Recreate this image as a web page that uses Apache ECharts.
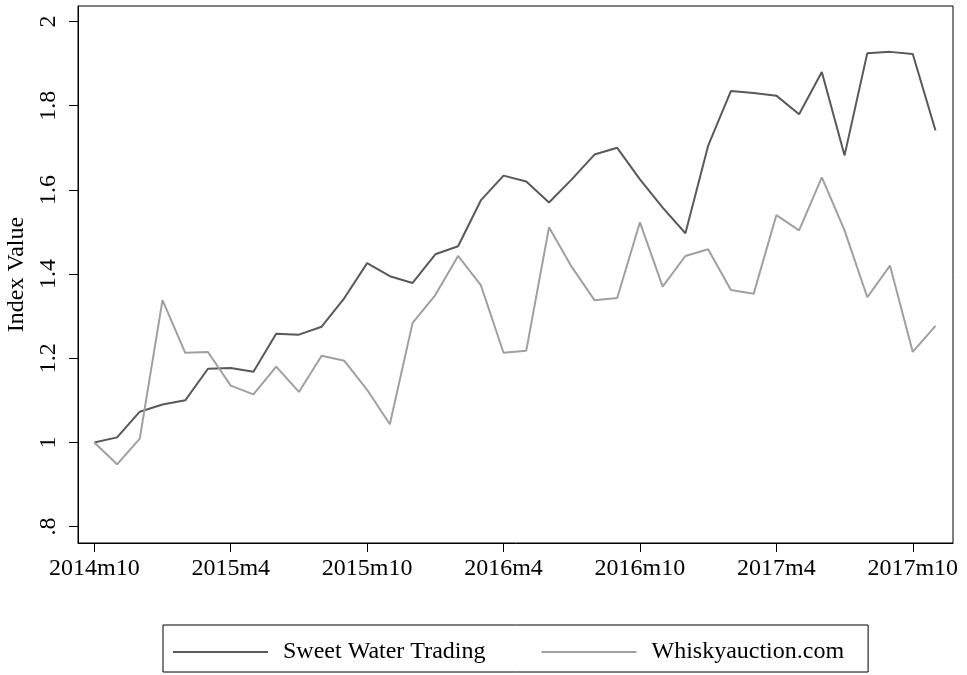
<!DOCTYPE html>
<html>
<head>
<meta charset="utf-8">
<script src="https://cdn.jsdelivr.net/npm/echarts@6/dist/echarts.min.js"></script>
<style>
  html, body { margin: 0; padding: 0; background: #fff; }
  #main { width: 967px; height: 675px; }
</style>
</head>
<body>
<div id="main"></div>
<script>
// monthly index, 2014m10 .. 2017m11
var months = ['2014m10','2014m11','2014m12','2015m1','2015m2','2015m3','2015m4','2015m5','2015m6','2015m7',
  '2015m8','2015m9','2015m10','2015m11','2015m12','2016m1','2016m2','2016m3','2016m4','2016m5',
  '2016m6','2016m7','2016m8','2016m9','2016m10','2016m11','2016m12','2017m1','2017m2','2017m3',
  '2017m4','2017m5','2017m6','2017m7','2017m8','2017m9','2017m10','2017m11'];

var sweetWater = [1.000, 1.012, 1.073, 1.090, 1.100, 1.175, 1.177, 1.168, 1.258, 1.256,
  1.275, 1.343, 1.426, 1.395, 1.379, 1.447, 1.466, 1.575, 1.634, 1.620,
  1.570, 1.625, 1.684, 1.700, 1.625, 1.558, 1.497, 1.705, 1.835, 1.830,
  1.824, 1.780, 1.880, 1.682, 1.925, 1.928, 1.923, 1.741];

var whiskyAuction = [1.000, 0.948, 1.009, 1.338, 1.213, 1.215, 1.135, 1.114, 1.180, 1.120,
  1.206, 1.194, 1.125, 1.043, 1.284, 1.350, 1.443, 1.374, 1.213, 1.218,
  1.511, 1.417, 1.338, 1.343, 1.523, 1.370, 1.443, 1.459, 1.362, 1.353,
  1.540, 1.504, 1.630, 1.504, 1.345, 1.420, 1.215, 1.277];

var xTicks = [0, 6, 12, 18, 24, 30, 36];
var yTicks = [0.8, 1, 1.2, 1.4, 1.6, 1.8, 2];

var font = 'Liberation Serif';

var myChart = echarts.init(document.getElementById('main'));
var option = {
  animation: false,
  grid: {
    left: 78, right: 14, top: 6, bottom: 132,
    outerBoundsMode: 'none',
    containLabel: false,
    show: true, borderColor: '#000', borderWidth: 1
  },
  legend: {
    left: 163, top: 625,
    padding: [15, 24, 8, 10],
    icon: 'rect',
    itemWidth: 95,
    itemHeight: 2,
    itemGap: 56,
    borderColor: '#000',
    borderWidth: 1,
    borderRadius: 0,
    textStyle: { fontFamily: font, fontSize: 24, color: '#000', lineHeight: 24, padding: [0, 0, 0, 10] },
    data: ['Sweet Water Trading', 'Whiskyauction.com']
  },
  xAxis: {
    type: 'value',
    min: -0.717,
    max: 37.77,
    splitLine: { show: false },
    axisLine: { show: true, onZero: false, lineStyle: { color: '#000', width: 1 } },
    axisTick: { show: true, length: 9, customValues: xTicks, lineStyle: { color: '#000' } },
    axisLabel: {
      customValues: xTicks,
      margin: 14,
      fontFamily: font, fontSize: 24, color: '#000',
      formatter: function (v) { return months[Math.round(v)]; }
    }
  },
  yAxis: {
    type: 'value',
    min: 0.761,
    max: 2.037,
    name: 'Index Value',
    nameLocation: 'middle',
    nameGap: 41,
    nameTextStyle: { fontFamily: font, fontSize: 24, color: '#000' },
    splitLine: { show: false },
    axisLine: { show: true, onZero: false, lineStyle: { color: '#000', width: 1 } },
    axisTick: { show: true, length: 9, customValues: yTicks, lineStyle: { color: '#000' } },
    axisLabel: {
      customValues: yTicks,
      rotate: 90,
      margin: 17,
      fontFamily: font, fontSize: 24, color: '#000',
      formatter: function (v) {
        var s = String(Math.round(v * 10) / 10);
        return s.charAt(0) === '0' ? s.slice(1) : s;
      }
    }
  },
  series: [
    {
      name: 'Sweet Water Trading',
      type: 'line',
      symbol: 'none',
      lineStyle: { color: '#595959', width: 2 },
      itemStyle: { color: '#595959' },
      data: sweetWater.map(function (v, i) { return [i, v]; })
    },
    {
      name: 'Whiskyauction.com',
      type: 'line',
      symbol: 'none',
      lineStyle: { color: '#a0a0a0', width: 2 },
      itemStyle: { color: '#a0a0a0' },
      data: whiskyAuction.map(function (v, i) { return [i, v]; })
    }
  ]
};
myChart.setOption(option);
window.addEventListener('resize', function () {
  myChart.resize();
});
</script>
</body>
</html>
